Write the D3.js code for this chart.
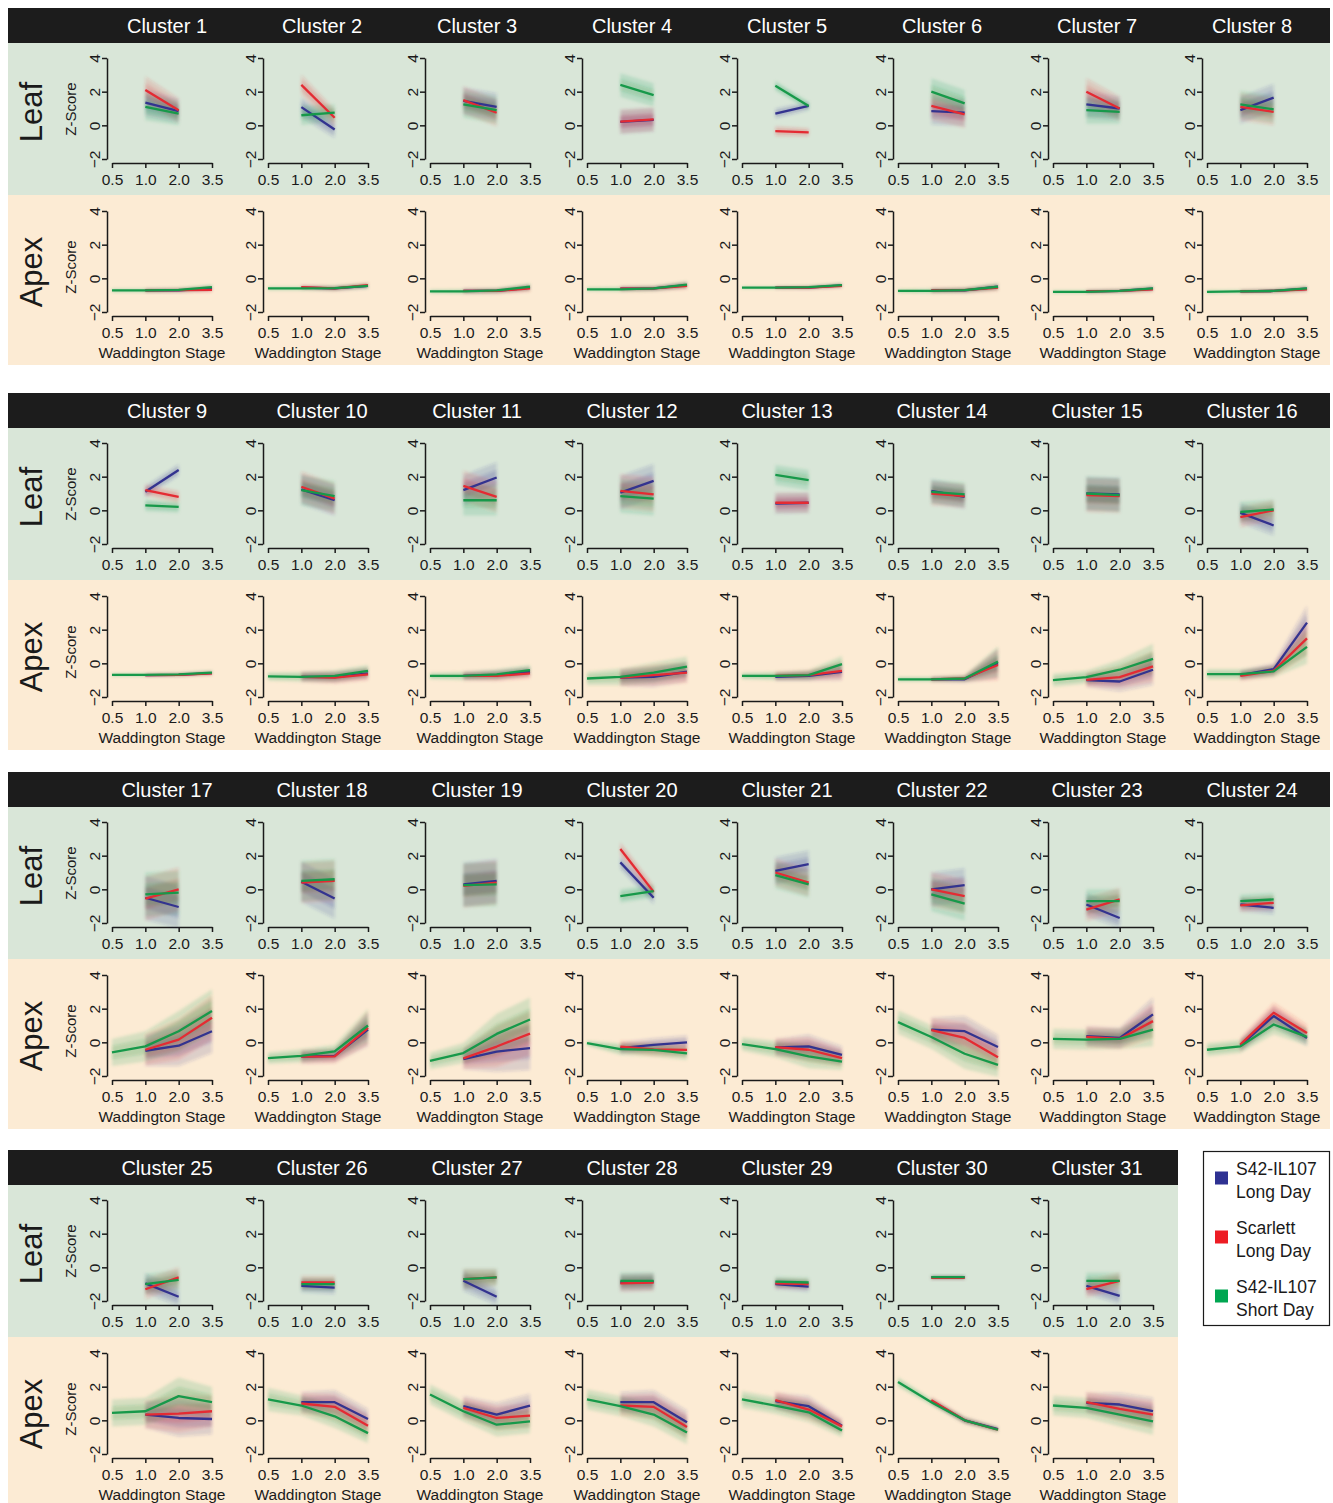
<!DOCTYPE html>
<html>
<head>
<meta charset="utf-8">
<script src="https://cdn.jsdelivr.net/npm/d3@7"></script>
<style>
  body { margin: 0; background: #fff; }
  svg { display: block; font-family: "Liberation Sans", Arial, sans-serif; }
</style>
</head>
<body>
<svg id="chart" width="1333" height="1503"></svg>
<script>
// ---------------- data ----------------
const clusters = [1, 2, 3, 4, 5, 6, 7, 8, 9, 10, 11, 12, 13, 14, 15, 16,
                  17, 18, 19, 20, 21, 22, 23, 24, 25, 26, 27, 28, 29, 30, 31];
const stages = ["0.5", "1.0", "2.0", "3.5"];
const leafStages = ["1.0", "2.0"];
const longDayApexStages = ["1.0", "2.0", "3.5"];
const yTicks = [-2, 0, 2, 4];
const seriesLabels = [["S42-IL107", "Long Day"], ["Scarlett", "Long Day"], ["S42-IL107", "Short Day"]];

// Leaf mean z-scores at stages 1.0 and 2.0
const leafBlue = [[1.35,0.85],[1.08,-0.25],[1.45,1.1],[0.2,0.33],[0.7,1.15],[0.85,0.75],[1.25,1.0],[0.9,1.65],
  [1.1,2.4],[1.25,0.6],[1.2,1.95],[1.05,1.75],[0.4,0.45],[1.15,0.8],[1.0,0.95],[-0.15,-0.9],
  [-0.5,-1.05],[0.45,-0.55],[0.3,0.5],[1.6,-0.5],[1.1,1.5],[0.0,0.25],[-0.9,-1.7],[-0.9,-1.1],
  [-0.95,-1.75],[-1.1,-1.2],[-0.8,-1.75],[-0.9,-0.85],[-1.0,-1.15],[-0.6,-0.6],[-1.1,-1.7]];
const leafRed = [[2.1,0.9],[2.4,0.45],[1.5,0.75],[0.22,0.35],[-0.35,-0.42],[1.15,0.65],[2.0,1.0],[1.1,0.8],
  [1.2,0.8],[1.4,0.7],[1.45,0.8],[1.15,0.95],[0.45,0.45],[1.0,0.85],[0.9,0.85],[-0.4,0.0],
  [-0.55,0.0],[0.4,0.5],[0.2,0.4],[2.4,-0.15],[1.0,0.4],[0.0,-0.4],[-1.2,-0.6],[-0.95,-0.8],
  [-1.3,-0.6],[-0.9,-0.9],[-0.7,-0.6],[-0.95,-0.9],[-0.95,-1.0],[-0.62,-0.62],[-1.3,-0.8]];
const leafGreen = [[1.1,0.7],[0.6,0.75],[1.25,0.9],[2.4,1.8],[2.35,1.15],[2.0,1.3],[0.9,0.8],[1.25,0.95],
  [0.3,0.2],[1.2,0.85],[0.6,0.6],[0.85,0.7],[2.1,1.8],[1.1,0.95],[1.0,0.9],[-0.1,0.05],
  [-0.3,-0.2],[0.5,0.6],[0.25,0.3],[-0.4,-0.1],[0.85,0.3],[-0.3,-0.85],[-0.7,-0.7],[-0.7,-0.6],
  [-1.0,-0.75],[-1.0,-1.0],[-0.7,-0.6],[-0.8,-0.8],[-0.85,-0.9],[-0.58,-0.58],[-0.8,-0.8]];
// spread of the individual gene profiles around the means (leaf, per stage)
const leafSpread = [[0.8,0.7],[0.6,0.5],[0.8,0.8],[0.7,0.7],[0.3,0.25],[0.8,0.8],[0.8,0.7],[0.8,0.8],
  [0.35,0.35],[0.9,0.9],[0.9,0.9],[1.0,1.0],[0.6,0.6],[0.7,0.7],[1.0,1.0],[0.6,0.6],
  [1.3,1.3],[1.2,1.2],[1.3,1.3],[0.4,0.4],[0.8,0.8],[1.0,1.0],[0.7,0.7],[0.4,0.4],
  [0.6,0.6],[0.4,0.4],[0.6,0.5],[0.5,0.5],[0.3,0.3],[0.12,0.12],[0.5,0.5]];

// Apex long-day means at stages 1.0, 2.0, 3.5
const apexBlue = [[-0.72,-0.72,-0.6],[-0.55,-0.6,-0.45],[-0.75,-0.75,-0.55],[-0.62,-0.6,-0.4],[-0.55,-0.55,-0.42],
  [-0.72,-0.72,-0.5],[-0.78,-0.75,-0.62],[-0.78,-0.75,-0.62],[-0.7,-0.68,-0.58],[-0.8,-0.82,-0.6],
  [-0.75,-0.7,-0.5],[-0.85,-0.8,-0.5],[-0.8,-0.75,-0.5],[-0.95,-0.95,0.0],[-1.0,-1.08,-0.38],
  [-0.7,-0.34,2.42],[-0.5,-0.2,0.66],[-0.85,-0.8,0.76],[-1.0,-0.55,-0.34],[-0.35,-0.15,0.0],
  [-0.3,-0.24,-0.74],[0.76,0.66,-0.28],[0.36,0.26,1.66],[-0.2,1.56,0.26],[0.34,0.14,0.08],
  [1.08,1.08,0.08],[0.84,0.34,0.88],[1.08,1.08,-0.12],[1.14,0.84,-0.32],[1.15,0.0,-0.52],[1.04,0.94,0.54]];
const apexRed = [[-0.72,-0.7,-0.68],[-0.52,-0.6,-0.4],[-0.75,-0.75,-0.6],[-0.62,-0.6,-0.45],[-0.55,-0.55,-0.45],
  [-0.72,-0.7,-0.55],[-0.78,-0.75,-0.65],[-0.78,-0.75,-0.65],[-0.7,-0.68,-0.6],[-0.8,-0.85,-0.65],
  [-0.75,-0.75,-0.6],[-0.85,-0.7,-0.55],[-0.75,-0.7,-0.45],[-0.95,-0.9,-0.1],[-0.98,-0.82,-0.18],
  [-0.74,-0.44,1.48],[-0.44,0.16,1.46],[-0.85,-0.84,0.86],[-0.95,-0.25,0.52],[-0.25,-0.42,-0.45],
  [-0.28,-0.44,-0.94],[0.72,0.26,-0.88],[0.32,0.2,1.26],[-0.14,1.76,0.56],[0.34,0.4,0.54],
  [1.0,0.8,-0.32],[0.74,0.14,0.28],[0.88,0.8,-0.4],[1.2,0.64,-0.36],[1.2,0.0,-0.56],[1.08,0.68,0.34]];
// Apex short-day means at stages 0.5, 1.0, 2.0, 3.5
const apexGreen = [[-0.72,-0.72,-0.68,-0.52],[-0.6,-0.6,-0.58,-0.45],[-0.78,-0.78,-0.72,-0.5],[-0.65,-0.65,-0.6,-0.38],
  [-0.55,-0.55,-0.52,-0.4],[-0.75,-0.75,-0.7,-0.5],[-0.8,-0.8,-0.75,-0.6],[-0.8,-0.78,-0.75,-0.6],
  [-0.68,-0.68,-0.65,-0.55],[-0.78,-0.8,-0.75,-0.45],[-0.75,-0.75,-0.65,-0.4],[-0.9,-0.8,-0.55,-0.2],
  [-0.75,-0.75,-0.7,-0.05],[-0.95,-0.95,-0.9,0.1],[-1.0,-0.82,-0.38,0.26],[-0.64,-0.64,-0.48,0.98],
  [-0.6,-0.24,0.66,1.86],[-0.94,-0.8,-0.54,1.0],[-1.1,-0.64,0.5,1.36],[-0.05,-0.4,-0.45,-0.65],
  [-0.1,-0.4,-0.84,-1.14],[1.2,0.32,-0.68,-1.34],[0.2,0.16,0.2,0.76],[-0.44,-0.24,1.06,0.32],
  [0.44,0.54,1.44,1.08],[1.24,0.88,0.24,-0.76],[1.54,0.54,-0.26,-0.06],[1.24,0.84,0.34,-0.72],
  [1.24,0.88,0.48,-0.6],[2.28,1.08,0.0,-0.56],[0.88,0.74,0.34,-0.06]];
// spread of the individual gene profiles (apex, per stage 0.5..3.5)
const apexSpread = [[0.12,0.12,0.12,0.15],[0.12,0.12,0.15,0.15],[0.12,0.15,0.15,0.2],[0.12,0.15,0.15,0.2],
  [0.08,0.08,0.1,0.12],[0.12,0.15,0.15,0.2],[0.1,0.1,0.12,0.15],[0.1,0.1,0.12,0.15],
  [0.1,0.1,0.1,0.12],[0.25,0.3,0.35,0.35],[0.2,0.25,0.3,0.3],[0.4,0.5,0.6,0.6],
  [0.2,0.25,0.3,0.5],[0.15,0.15,0.2,0.9],[0.4,0.4,0.6,0.9],[0.3,0.3,0.35,1.0],
  [0.8,0.9,1.2,1.3],[0.35,0.4,0.4,1.0],[0.5,0.6,1.2,1.3],[0.15,0.35,0.4,0.4],
  [0.4,0.5,0.7,0.5],[0.7,0.7,0.9,0.7],[0.6,0.6,0.6,1.0],[0.4,0.4,0.6,0.5],
  [0.8,0.8,1.1,0.9],[0.7,0.6,0.7,0.6],[0.6,0.6,0.7,0.7],[0.6,0.6,0.7,0.7],
  [0.5,0.5,0.6,0.4],[0.3,0.2,0.2,0.15],[0.6,0.6,0.7,0.8]];

// ---------------- style / layout ----------------
const lineColors = ["#33338f", "#e42b33", "#17994a"];
const legendColors = ["#2e3192", "#ed1c24", "#00a651"];
const leafBg = "#d9e6d8", apexBg = "#fcebd4", headBg = "#1c1c1c", ink = "#1a1a1a";
const blockTops = [8, 393, 772, 1150];
const colX = [112, 268, 430, 587, 742, 898, 1053, 1207];   // x of the first stage tick per column
const plotW = 100;
const perBlock = 8;
const tickFont = 15.5;

const svg = d3.select("#chart");
const defs = svg.append("defs");
defs.append("filter").attr("id", "haze")
  .attr("x", "-30%").attr("y", "-30%").attr("width", "160%").attr("height", "160%")
  .append("feGaussianBlur").attr("stdDeviation", 1.5);

// block backgrounds and headers
blockTops.forEach((H, b) => {
  const n = Math.min(perBlock, clusters.length - b * perBlock);
  const right = n === perBlock ? 1330 : 1178;
  svg.append("rect").attr("x", 8).attr("y", H + 35).attr("width", right - 8).attr("height", 152).attr("fill", leafBg);
  svg.append("rect").attr("x", 8).attr("y", H + 187).attr("width", right - 8).attr("height", 170).attr("fill", apexBg);
  svg.append("rect").attr("x", 8).attr("y", H).attr("width", right - 8).attr("height", 35).attr("fill", headBg);

  svg.append("text").attr("transform", `translate(31,${H + 104}) rotate(-90)`)
    .attr("text-anchor", "middle").attr("dominant-baseline", "central")
    .attr("font-size", 31).attr("fill", ink).text("Leaf");
  svg.append("text").attr("transform", `translate(31,${H + 264}) rotate(-90)`)
    .attr("text-anchor", "middle").attr("dominant-baseline", "central")
    .attr("font-size", 31).attr("fill", ink).text("Apex");
  svg.append("text").attr("transform", `translate(70,${H + 101}) rotate(-90)`)
    .attr("text-anchor", "middle").attr("dominant-baseline", "central")
    .attr("font-size", 15).attr("fill", ink).text("Z-Score");
  svg.append("text").attr("transform", `translate(70,${H + 259}) rotate(-90)`)
    .attr("text-anchor", "middle").attr("dominant-baseline", "central")
    .attr("font-size", 15).attr("fill", ink).text("Z-Score");
});

function styleAxis(g) {
  g.attr("font-size", null).attr("font-family", null);
  g.selectAll("path, line").attr("stroke", ink).attr("stroke-width", 1.5);
  g.selectAll("text").attr("fill", ink).attr("font-size", tickFont);
}

function drawPanel(x, y, series, yBottom) {
  const g = svg.append("g");
  // y axis with rotated labels
  const ya = g.append("g").attr("transform", `translate(${x.range()[0] - 5},0)`)
    .call(d3.axisLeft(y).tickValues(yTicks).tickFormat(d3.format("d")).tickSize(5).tickSizeOuter(0));
  styleAxis(ya);
  ya.selectAll(".tick text").attr("x", 0).attr("dy", null)
    .attr("transform", "translate(-13,0) rotate(-90)")
    .attr("text-anchor", "middle").attr("dominant-baseline", "central");
  // x axis
  const xa = g.append("g").attr("transform", `translate(0,${yBottom + 4})`)
    .call(d3.axisBottom(x).tickSize(5).tickSizeOuter(0).tickPadding(6));
  styleAxis(xa);

  // clouds of individual profiles
  const cloud = g.append("g").attr("filter", "url(#haze)");
  series.forEach(s => {
    const pts = s.stages.map((st, k) => ({ st, v: s.values[k], sp: s.spread[k] }));
    [[1, 0.15], [0.5, 0.18]].forEach(([f, op]) => {
      const area = d3.area().x(d => x(d.st))
        .y0(d => y(Math.max(-2.3, d.v - d.sp * f)))
        .y1(d => y(Math.min(4.2, d.v + d.sp * f)));
      cloud.append("path").attr("d", area(pts)).attr("fill", s.color).attr("opacity", op);
    });
  });
  // mean lines
  series.forEach(s => {
    const pts = s.stages.map((st, k) => ({ st, v: s.values[k] }));
    const line = d3.line().x(d => x(d.st)).y(d => y(d.v));
    g.append("path").attr("d", line(pts)).attr("fill", "none")
      .attr("stroke", s.color).attr("stroke-width", 2.3).attr("stroke-linejoin", "round");
  });
}

clusters.forEach((id, i) => {
  const b = Math.floor(i / perBlock), c = i % perBlock;
  const H = blockTops[b];
  const x = d3.scalePoint().domain(stages).range([colX[c], colX[c] + plotW]);

  svg.append("text").attr("x", 167 + 155 * c).attr("y", H + 25)
    .attr("text-anchor", "middle").attr("font-size", 20).attr("fill", "#fff")
    .text(`Cluster ${id}`);

  // leaf panel
  const yLeaf = d3.scaleLinear().domain([-2, 4]).range([H + 151, H + 50]);
  drawPanel(x, yLeaf, [
    { stages: leafStages, values: leafBlue[i], spread: leafSpread[i], color: lineColors[0] },
    { stages: leafStages, values: leafRed[i], spread: leafSpread[i], color: lineColors[1] },
    { stages: leafStages, values: leafGreen[i], spread: leafSpread[i], color: lineColors[2] }
  ], H + 151);

  // apex panel
  const yApex = d3.scaleLinear().domain([-2, 4]).range([H + 304, H + 203]);
  const sp = apexSpread[i];
  drawPanel(x, yApex, [
    { stages: longDayApexStages, values: apexBlue[i], spread: sp.slice(1), color: lineColors[0] },
    { stages: longDayApexStages, values: apexRed[i], spread: sp.slice(1), color: lineColors[1] },
    { stages: stages, values: apexGreen[i], spread: sp, color: lineColors[2] }
  ], H + 304);

  svg.append("text").attr("x", colX[c] + plotW / 2).attr("y", H + 350)
    .attr("text-anchor", "middle").attr("font-size", tickFont).attr("fill", ink)
    .text("Waddington Stage");
});

// legend
const lg = svg.append("g");
lg.append("rect").attr("x", 1203.5).attr("y", 1151.5).attr("width", 126).attr("height", 174)
  .attr("fill", "#fff").attr("stroke", ink).attr("stroke-width", 1.2);
const entryY = d3.scalePoint().domain(seriesLabels.map((d, k) => k)).range([1178, 1296]);
seriesLabels.forEach((lab, k) => {
  const cy = entryY(k);
  lg.append("rect").attr("x", 1215).attr("y", cy - 6.5).attr("width", 13).attr("height", 13)
    .attr("fill", legendColors[k]);
  lg.append("text").attr("x", 1236).attr("y", cy - 3).attr("font-size", 17.5).attr("fill", ink).text(lab[0]);
  lg.append("text").attr("x", 1236).attr("y", cy + 20).attr("font-size", 17.5).attr("fill", ink).text(lab[1]);
});
</script>
</body>
</html>
